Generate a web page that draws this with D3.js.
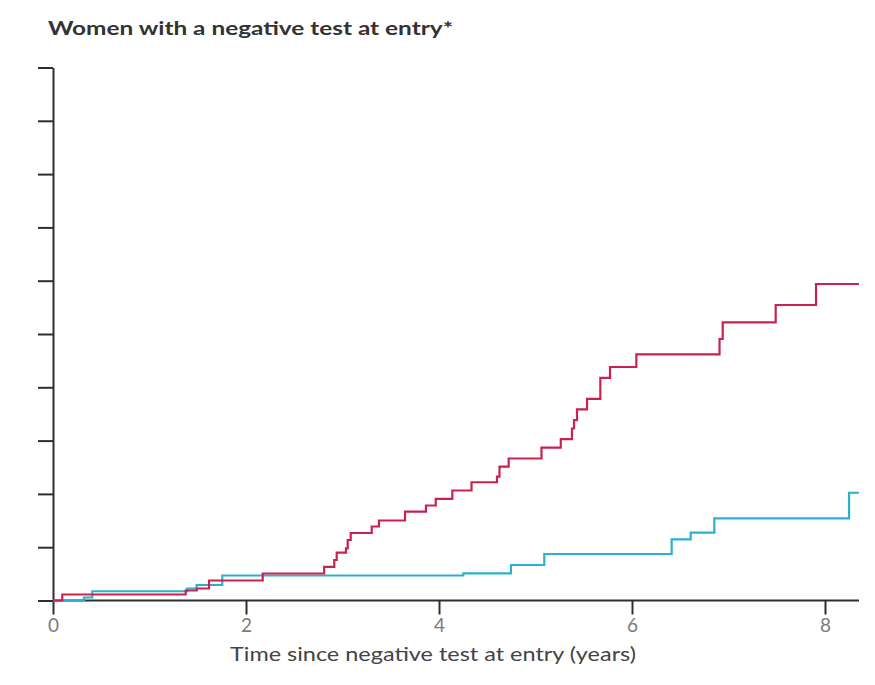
<!DOCTYPE html>
<html>
<head>
<meta charset="utf-8">
<script src="https://cdn.jsdelivr.net/npm/d3@7"></script>
<style>
  html, body { margin: 0; padding: 0; background: #ffffff; }
  svg { display: block; }
</style>
</head>
<body>
<script>
// ---- data ----
const chartTitle = "Women with a negative test at entry*";
const xAxisTitle = "Time since negative test at entry (years)";
const xTickValues = [0, 2, 4, 6, 8];
const xTickLabels = ["0", "2", "4", "6", "8"];
const yTickValues = [0, 1, 2, 3, 4, 5, 6, 7, 8, 9, 10];
const yTickLabels = ["", "", "", "", "", "", "", "", "", "", ""];

// red (upper) step curve: event times and cumulative values
const redTimes  = [0, 0.096, 1.375, 1.489, 1.617, 2.173, 2.810, 2.915, 2.940, 3.036, 3.054, 3.085,
                   3.303, 3.378, 3.648, 3.865, 3.966, 4.138, 4.337, 4.601, 4.627, 4.722, 5.062,
                   5.262, 5.378, 5.399, 5.430, 5.534, 5.672, 5.772, 6.045, 6.907, 6.940, 7.489,
                   7.907, 8.352];
const redValues = [0, 0.113, 0.188, 0.225, 0.375, 0.507, 0.629, 0.760, 0.900, 0.979, 1.135, 1.266,
                   1.388, 1.501, 1.666, 1.782, 1.908, 2.064, 2.219, 2.323, 2.510, 2.664, 2.867,
                   3.026, 3.227, 3.386, 3.587, 3.784, 4.178, 4.381, 4.619, 4.906, 5.219, 5.544,
                   5.938, 5.938];

// blue (lower) step curve
const blueTimes  = [0, 0.321, 0.407, 1.389, 1.489, 1.754, 4.252, 4.746, 5.091, 6.411, 6.608, 6.853, 8.249, 8.352];
const blueValues = [0, 0.056, 0.174, 0.225, 0.291, 0.469, 0.510, 0.666, 0.872, 1.148, 1.272, 1.542, 2.022, 2.022];

// ---- drawing ----
const W = 875, H = 685;
const svg = d3.select("body").append("svg").attr("width", W).attr("height", H);
svg.append("rect").attr("width", W).attr("height", H).attr("fill", "#ffffff");

const x = d3.scaleLinear().domain([0, 8]).range([53, 825]);
const y = d3.scaleLinear().domain([0, 10]).range([600.5, 67.5]);
const xEnd = 859;

const axisColor = "#2e2e2e";
const fontFam = "Lato, 'Open Sans', sans-serif";

// y axis
const yAxis = d3.axisLeft(y).tickValues(yTickValues)
  .tickFormat((d, i) => yTickLabels[i]).tickSize(15).tickSizeOuter(0);
const gy = svg.append("g").attr("transform", "translate(53,0)").call(yAxis);
gy.select(".domain").attr("stroke", axisColor).attr("stroke-width", 2);
gy.selectAll(".tick line").attr("stroke", axisColor).attr("stroke-width", 2);

// x axis
const xAxis = d3.axisBottom(x).tickValues(xTickValues)
  .tickFormat((d, i) => xTickLabels[i]).tickSize(14).tickSizeOuter(0).tickPadding(4);
const gx = svg.append("g").attr("transform", "translate(0,600.5)").call(xAxis);
gx.select(".domain").attr("d", `M53,0H${xEnd}`).attr("stroke", axisColor).attr("stroke-width", 2);
gx.selectAll(".tick line").attr("stroke", axisColor).attr("stroke-width", 2);
gx.selectAll(".tick text").attr("fill", "#7a7a7a").attr("font-size", 19)
  .attr("font-family", fontFam).attr("dy", "0.72em");

// step curves
const line = d3.line().x(d => Math.min(x(d[0]), xEnd)).y(d => y(d[1])).curve(d3.curveStepAfter);
const redPts = redTimes.map((t, i) => [t, redValues[i]]);
const bluePts = blueTimes.map((t, i) => [t, blueValues[i]]);

svg.append("path").datum(bluePts).attr("d", line)
  .attr("fill", "none").attr("stroke", "#2bb0cf").attr("stroke-width", 2.2);
svg.append("path").datum(redPts).attr("d", line)
  .attr("fill", "none").attr("stroke", "#c9224f").attr("stroke-width", 2.2);

// titles
svg.append("text").attr("x", 48).attr("y", 35).text(chartTitle)
  .attr("font-family", fontFam).attr("font-weight", "bold").attr("font-size", 19)
  .attr("fill", "#333333").attr("textLength", 405).attr("lengthAdjust", "spacingAndGlyphs");

svg.append("text").attr("x", 433).attr("y", 661).attr("text-anchor", "middle").text(xAxisTitle)
  .attr("font-family", fontFam).attr("font-size", 19)
  .attr("fill", "#444444").attr("textLength", 406).attr("lengthAdjust", "spacingAndGlyphs");
</script>
</body>
</html>
